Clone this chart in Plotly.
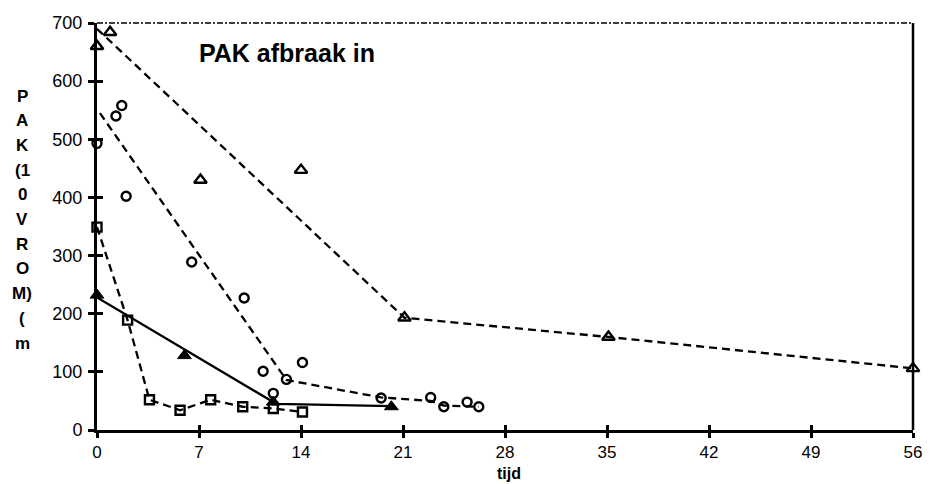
import plotly.graph_objects as go

# ---- data ----
tri_open_x = [0, 0.9, 7.1, 14.0, 21.1, 35.1, 56]
tri_open_y = [660, 684, 430, 447, 193, 160, 106]
tri_open_fit_x = [0, 21.1, 35.1, 56]
tri_open_fit_y = [690, 193, 160, 106]

circ_x = [0, 1.3, 1.7, 2.0, 6.5, 10.1, 11.4, 12.1, 13.0, 14.1, 19.5, 22.9, 23.8, 25.4, 26.2]
circ_y = [493, 540, 558, 402, 289, 227, 101, 63, 87, 116, 55, 56, 40, 48, 40]
circ_fit_x = [0.2, 13.0, 19.5, 22.9, 23.8, 26.2]
circ_fit_y = [545, 86, 56, 50, 42, 40]

sq_x = [0, 2.1, 3.6, 5.7, 7.8, 10.0, 12.1, 14.1]
sq_y = [349, 189, 52, 34, 52, 40, 37, 31]

tri_fill_x = [0, 6.0, 12.1, 20.2]
tri_fill_y = [232, 128, 48, 40]
tri_fill_fit_x = [0, 12.3, 20.2]
tri_fill_fit_y = [228, 45, 41]

x_ticks = [0, 7, 14, 21, 28, 35, 42, 49, 56]
y_ticks = [0, 100, 200, 300, 400, 500, 600, 700]

title_text = "PAK afbraak in"
x_title = "tijd"
y_title_letters = ["P", "A", "K", "(1", "0", "V", "R", "O", "M)", "(", "m"]

BLACK = "black"
DASH = "8px,5px"
LW = 2.3

fig = go.Figure()

# fitted lines
fig.add_trace(go.Scatter(x=tri_open_fit_x, y=tri_open_fit_y, mode="lines",
                         line=dict(color=BLACK, width=LW, dash=DASH), cliponaxis=False))
fig.add_trace(go.Scatter(x=circ_fit_x, y=circ_fit_y, mode="lines",
                         line=dict(color=BLACK, width=LW, dash=DASH), cliponaxis=False))
fig.add_trace(go.Scatter(x=sq_x, y=sq_y, mode="lines",
                         line=dict(color=BLACK, width=LW, dash=DASH), cliponaxis=False))
fig.add_trace(go.Scatter(x=tri_fill_fit_x, y=tri_fill_fit_y, mode="lines",
                         line=dict(color=BLACK, width=LW), cliponaxis=False))

# markers
fig.add_trace(go.Scatter(x=tri_open_x, y=tri_open_y, mode="markers", cliponaxis=False,
                         marker=dict(symbol="triangle-up-open", size=11, color=BLACK,
                                     line=dict(width=2.4, color=BLACK))))
fig.add_trace(go.Scatter(x=circ_x, y=circ_y, mode="markers", cliponaxis=False,
                         marker=dict(symbol="circle-open", size=9, color=BLACK,
                                     line=dict(width=2.4, color=BLACK))))
fig.add_trace(go.Scatter(x=sq_x, y=sq_y, mode="markers", cliponaxis=False,
                         marker=dict(symbol="square-open", size=9, color=BLACK,
                                     line=dict(width=2.4, color=BLACK))))
fig.add_trace(go.Scatter(x=tri_fill_x, y=tri_fill_y, mode="markers", cliponaxis=False,
                         marker=dict(symbol="triangle-up", size=12, color=BLACK,
                                     line=dict(width=1, color=BLACK))))
# invisible trace for overlay axes (inner tick halves)
fig.add_trace(go.Scatter(x=[0], y=[0], xaxis="x2", yaxis="y2", mode="markers",
                         marker=dict(opacity=0), hoverinfo="skip"))

FONT = "Liberation Sans, Arial, sans-serif"

fig.update_layout(
    width=934, height=484,
    margin=dict(l=97, r=16, t=23, b=54),
    paper_bgcolor="white", plot_bgcolor="white",
    showlegend=False,
    font=dict(family=FONT, color=BLACK, size=18),
    xaxis=dict(range=[0, 56], tickvals=x_ticks, ticktext=[str(v) for v in x_ticks],
               showgrid=False, zeroline=False, showline=True, linecolor=BLACK, linewidth=2.5,
               ticks="outside", ticklen=5, tickwidth=2.5, tickcolor=BLACK,
               ticklabelstandoff=0, tickfont=dict(size=17, family=FONT)),
    yaxis=dict(range=[0, 700], tickvals=y_ticks, ticktext=[str(v) for v in y_ticks],
               showgrid=False, zeroline=False, showline=True, linecolor=BLACK, linewidth=3,
               ticks="outside", ticklen=6, tickwidth=2.5, tickcolor=BLACK,
               ticklabelstandoff=2, tickfont=dict(size=18, family=FONT)),
    xaxis2=dict(range=[0, 56], overlaying="x", tickvals=x_ticks, showticklabels=False,
                showgrid=False, zeroline=False, showline=False,
                ticks="inside", ticklen=5, tickwidth=2.5, tickcolor=BLACK),
    yaxis2=dict(range=[0, 700], overlaying="y", tickvals=y_ticks, showticklabels=False,
                showgrid=False, zeroline=False, showline=False,
                ticks="inside", ticklen=6, tickwidth=2.5, tickcolor=BLACK),
)

# frame: dotted top, solid right
fig.add_shape(type="line", xref="paper", yref="paper", x0=0, x1=1, y0=1, y1=1,
              line=dict(color=BLACK, width=1.5, dash="6px,2px,2px,2px"))
fig.add_shape(type="line", xref="paper", yref="paper", x0=1, x1=1, y0=0, y1=1,
              line=dict(color=BLACK, width=2.5))

# title inside plot
fig.add_annotation(text="<b>" + title_text + "</b>", xref="paper", yref="paper",
                   x=0.123, y=0.926, xanchor="left", yanchor="middle", showarrow=False,
                   font=dict(size=25, family=FONT, color=BLACK))
# x title
fig.add_annotation(text="<b>" + x_title + "</b>", xref="paper", yref="paper",
                   x=0.505, y=(430 - 473) / 407, xanchor="center", yanchor="middle",
                   showarrow=False, borderpad=0,
                   font=dict(size=16, family=FONT, color=BLACK))
# stacked y title
top_px, step_px = 96, 24.7
for i, ch in enumerate(y_title_letters):
    py = top_px + i * step_px
    fig.add_annotation(text="<b>" + ch + "</b>", xref="paper", yref="paper",
                       x=(22 - 97) / 821, y=(430 - py) / 407,
                       xanchor="center", yanchor="middle", showarrow=False,
                       font=dict(size=17, family=FONT, color=BLACK))

fig.write_html("out.html")
